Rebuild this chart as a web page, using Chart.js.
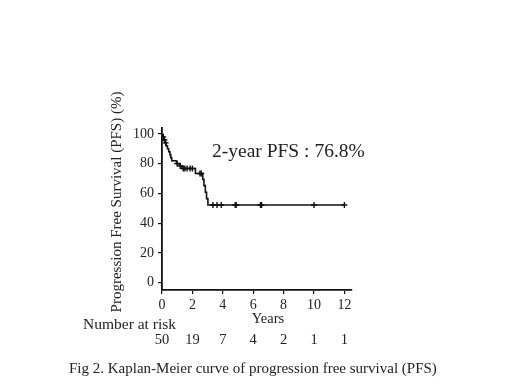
<!DOCTYPE html>
<html>
<head>
<meta charset="utf-8">
<script src="https://cdn.jsdelivr.net/npm/chart.js@4/dist/chart.umd.min.js"></script>
<style>
  html, body { margin: 0; padding: 0; background: #ffffff; }
  #wrap { width: 520px; height: 390px; }
</style>
</head>
<body>
<div id="wrap"><canvas id="km"></canvas></div>
<script>
// Kaplan-Meier steps: time (years) and survival (%) after each event
const eventTimes = [0, 0.05, 0.12, 0.2, 0.28, 0.36, 0.44, 0.52, 0.58, 0.64, 0.95, 1.15, 1.32, 2.2, 2.68, 2.76, 2.85, 2.93, 3.02, 12];
const survival   = [100, 98, 96, 94, 92, 90, 88, 86, 84, 82, 80, 78.5, 76.8, 73.4, 69.5, 65.2, 60.8, 56.5, 52.2, 52.2];

// censored observations
const censorTimes  = [0.08, 0.16, 0.24, 1.0, 1.2, 1.4, 1.5, 1.65, 1.85, 2.0, 2.5, 2.58, 3.35, 3.62, 3.9, 4.82, 4.88, 6.48, 6.55, 10.0, 12.0];
const censorValues = [98, 96, 94, 80, 78.5, 76.8, 76.8, 76.8, 76.8, 76.8, 73.4, 73.4, 52.2, 52.2, 52.2, 52.2, 52.2, 52.2, 52.2, 52.2, 52.2];

// number at risk under the x axis
const riskYears  = [0, 2, 4, 6, 8, 10, 12];
const riskCounts = [50, 19, 7, 4, 2, 1, 1];

const serif = "'Liberation Serif', 'DejaVu Serif', serif";

const textPlugin = {
    id: "kmText",
    afterDraw(chart) {
        const ctx = chart.ctx;
        const xs = chart.scales.x;
        ctx.save();
        ctx.fillStyle = "#222";

        // y axis title
        ctx.save();
        ctx.translate(117, 202);
        ctx.rotate(-Math.PI / 2);
        ctx.font = "15px " + serif;
        ctx.textAlign = "center";
        ctx.textBaseline = "middle";
        ctx.fillText("Progression Free Survival (PFS) (%)", 0, 0);
        ctx.restore();

        // annotation
        ctx.font = "19.5px " + serif;
        ctx.textAlign = "left";
        ctx.textBaseline = "middle";
        ctx.fillText("2-year PFS : 76.8%", 212, 152);

        // x axis title
        ctx.font = "14.5px " + serif;
        ctx.textAlign = "center";
        ctx.fillText("Years", 268, 319);

        // number at risk
        ctx.font = "15.5px " + serif;
        ctx.textAlign = "left";
        ctx.fillText("Number at risk", 83, 325);
        ctx.font = "14.5px " + serif;
        ctx.textAlign = "center";
        riskYears.forEach((yr, i) => {
            ctx.fillText(String(riskCounts[i]), xs.getPixelForValue(yr), 340);
        });

        // caption
        ctx.font = "15px " + serif;
        ctx.textAlign = "left";
        ctx.fillText("Fig 2. Kaplan-Meier curve of progression free survival (PFS)", 69, 369);
        ctx.restore();
    }
};

new Chart(document.getElementById("km"), {
    type: "line",
    data: {
        datasets: [
            {
                data: eventTimes.map((t, i) => ({ x: t, y: survival[i] })),
                borderColor: "#111",
                borderWidth: 1.6,
                stepped: "before",
                pointRadius: 0,
                fill: false
            },
            {
                data: censorTimes.map((t, i) => ({ x: t, y: censorValues[i] })),
                showLine: false,
                pointStyle: "cross",
                pointRadius: 3,
                borderColor: "#111",
                borderWidth: 1.4
            }
        ]
    },
    options: {
        responsive: true,
        maintainAspectRatio: false,
        animation: false,
        layout: { padding: { left: 101, right: 168, top: 128, bottom: 60 } },
        plugins: {
            legend: { display: false },
            tooltip: { enabled: false }
        },
        scales: {
            x: {
                type: "linear",
                min: 0,
                max: 12.5,
                afterFit(scale) { scale.height = 40; },
                afterBuildTicks(scale) {
                    scale.ticks = riskYears.map(v => ({ value: v }));
                },
                border: { display: true, color: "#111", width: 1.8 },
                grid: { drawOnChartArea: false, drawTicks: true, tickLength: 4, color: "#111", lineWidth: 1.2 },
                ticks: { color: "#222", font: { family: serif, size: 14 }, padding: 3, maxRotation: 0 }
            },
            y: {
                min: -5,
                max: 104,
                afterFit(scale) { scale.width = 61; },
                afterBuildTicks(scale) {
                    scale.ticks = [0, 20, 40, 60, 80, 100].map(v => ({ value: v }));
                },
                border: { display: true, color: "#111", width: 1.8 },
                grid: { drawOnChartArea: false, drawTicks: true, tickLength: 4, color: "#111", lineWidth: 1.2 },
                ticks: { color: "#222", font: { family: serif, size: 14 }, padding: 4 }
            }
        }
    },
    plugins: [textPlugin]
});
</script>
</body>
</html>
